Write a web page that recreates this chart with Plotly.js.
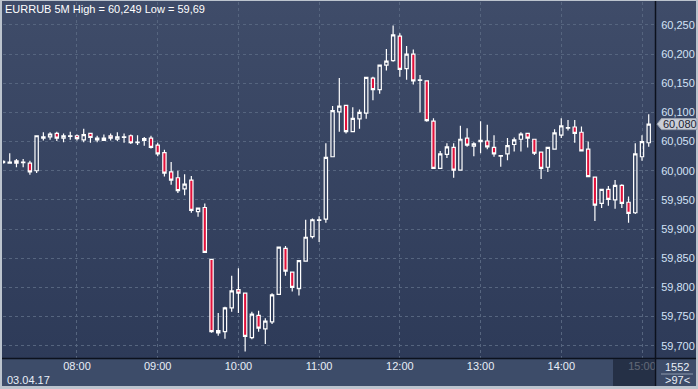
<!DOCTYPE html>
<html><head><meta charset="utf-8">
<script src="https://cdn.plot.ly/plotly-3.0.1.min.js"></script>
<style>
html,body{margin:0;padding:0;background:#c3cad3;overflow:hidden;}
#chart{width:698px;height:389px;background:linear-gradient(to bottom,#3f4c69 0%,#2c3957 100%);
box-shadow: inset 2px 1px 0 0 #bcc4ce, inset -2px -3px 0 0 #bcc4ce;}
</style></head><body><div id="chart"></div>
<script>
const day = '2017-04-03 ';
const times = ['07:05','07:10','07:15','07:20','07:25','07:30','07:35','07:40','07:45','07:50','07:55',
'08:00','08:05','08:10','08:15','08:20','08:25','08:30','08:35','08:40','08:45','08:50','08:55',
'09:00','09:05','09:10','09:15','09:20','09:25','09:30','09:35','09:40','09:45','09:50','09:55',
'10:00','10:05','10:10','10:15','10:20','10:25','10:30','10:35','10:40','10:45','10:50','10:55',
'11:00','11:05','11:10','11:15','11:20','11:25','11:30','11:35','11:40','11:45','11:50','11:55',
'12:00','12:05','12:10','12:15','12:20','12:25','12:30','12:35','12:40','12:45','12:50','12:55',
'13:00','13:05','13:10','13:15','13:20','13:25','13:30','13:35','13:40','13:45','13:50','13:55',
'14:00','14:05','14:10','14:15','14:20','14:25','14:30','14:35','14:40','14:45','14:50','14:55',
'15:00','15:05'];
const openV = [60.014,60.013,60.017,60.014,60.013,60.000,60.056,60.058,60.064,60.056,60.059,
60.060,60.053,60.064,60.056,60.052,60.060,60.054,60.057,60.060,60.048,60.052,60.056,
60.044,60.031,59.998,59.988,59.969,59.984,59.930,59.937,59.848,59.722,59.724,59.765,
59.796,59.790,59.714,59.752,59.729,59.741,59.788,59.867,59.826,59.798,59.845,59.887,
59.915,59.917,60.024,60.101,60.112,60.067,60.089,60.099,60.159,60.139,60.181,60.189,
60.231,60.175,60.200,60.155,60.154,60.085,60.004,60.028,60.040,60.001,60.056,60.042,
60.050,60.051,60.040,60.025,60.029,60.045,60.054,60.064,60.054,60.032,60.006,60.037,
60.061,60.073,60.075,60.066,60.037,59.989,59.944,59.968,59.950,59.975,59.946,59.928,
60.024,60.048];
const highV = [60.018,60.030,60.020,60.020,60.017,60.061,60.066,60.066,60.067,60.064,60.067,
60.062,60.072,60.065,60.060,60.062,60.064,60.066,60.064,60.062,60.061,60.058,60.060,
60.048,60.036,60.015,60.000,59.994,59.991,59.937,59.944,59.848,59.756,59.767,59.820,
59.833,59.790,59.758,59.760,59.747,59.790,59.869,59.871,59.826,59.847,59.916,59.918,
59.922,60.047,60.111,60.159,60.112,60.109,60.105,60.161,60.161,60.182,60.209,60.249,
60.236,60.214,60.208,60.164,60.155,60.090,60.034,60.047,60.047,60.077,60.073,60.049,
60.085,60.079,60.061,60.027,60.056,60.057,60.066,60.064,60.054,60.032,60.040,60.071,
60.090,60.087,60.087,60.076,60.050,59.989,59.969,59.974,59.984,59.977,59.956,60.047,
60.061,60.097];
const lowV = [60.012,60.012,60.006,60.006,59.993,59.996,60.052,60.053,60.051,60.049,60.053,
60.052,60.049,60.048,60.049,60.051,60.052,60.051,60.048,60.046,60.044,60.043,60.038,
60.025,59.990,59.976,59.962,59.958,59.928,59.921,59.859,59.722,59.717,59.712,59.758,
59.756,59.690,59.711,59.724,59.703,59.737,59.788,59.820,59.793,59.786,59.845,59.884,
59.878,59.911,60.024,60.067,60.064,60.067,60.072,60.089,60.121,60.132,60.172,60.187,
60.161,60.156,60.148,60.100,60.084,60.003,60.003,60.022,59.988,60.001,60.041,60.025,
60.030,60.037,60.024,60.007,60.018,60.033,60.033,60.040,60.027,59.986,59.998,60.036,
60.056,60.069,60.048,60.034,59.989,59.914,59.936,59.940,59.935,59.936,59.911,59.926,
60.017,60.041];
const closeV = [60.016,60.015,60.013,60.015,59.998,60.060,60.058,60.063,60.056,60.060,60.060,
60.055,60.062,60.057,60.053,60.056,60.056,60.058,60.058,60.048,60.049,60.055,60.040,
60.029,59.996,59.984,59.966,59.977,59.932,59.936,59.860,59.724,59.726,59.765,59.794,
59.790,59.716,59.754,59.730,59.742,59.787,59.869,59.828,59.800,59.846,59.886,59.916,
59.916,60.023,60.103,60.111,60.067,60.090,60.100,60.160,60.139,60.181,60.188,60.233,
60.174,60.200,60.154,60.156,60.086,60.004,60.029,60.041,60.001,60.054,60.044,60.046,
60.052,60.041,60.029,60.026,60.043,60.053,60.063,60.056,60.030,60.004,60.040,60.065,
60.077,60.074,60.064,60.034,59.990,59.941,59.968,59.951,59.975,59.944,59.927,60.029,
60.050,60.080];
const titleText = 'EURRUB 5M High = 60,249 Low = 59,69';
const dateLabel = '03.04.17';
const countTop = '1552';
const countBottom = '>97<';

const L = 3, R = 43, T = 2, B = 31, W = 698, H = 389;
const PW = W - L - R, PH = H - T - B;
const X = px => (px - L) / PW;
const Y = py => (H - B - py) / PH;
const yMin = 59.6789, yMax = 60.2894;
const unitPx = PH / (yMax - yMin);
const font = 'Liberation Sans, Arial, sans-serif';

const last = closeV[closeV.length - 1];
const hh = 5.5 / unitPx;
const tagPath = `M ${X(657)} ${last} L ${X(661.5)} ${last + hh} L ${X(697)} ${last + hh} L ${X(697)} ${last - hh} L ${X(661.5)} ${last - hh} Z`;

const trace = {
  type: 'candlestick',
  x: times.map(t => day + t),
  open: openV, high: highV, low: lowV, close: closeV,
  increasing: {line: {color: '#ffffff', width: 1.2}, fillcolor: 'rgba(0,0,0,0)'},
  decreasing: {line: {color: '#ffffff', width: 1.2}, fillcolor: '#e2113b'},
  whiskerwidth: 0,
  hoverinfo: 'skip',
  showlegend: false
};

const layout = {
  width: W, height: H,
  margin: {l: L, r: R, t: T, b: B, pad: 0},
  paper_bgcolor: 'rgba(0,0,0,0)',
  plot_bgcolor: 'rgba(0,0,0,0)',
  separators: ', ',
  font: {family: font, size: 11, color: '#e8eef7'},
  xaxis: {
    type: 'date',
    range: [day + '07:05:00', day + '15:09:40'],
    rangeslider: {visible: false},
    dtick: 3600000, tick0: day + '08:00',
    tickformat: '%H:%M',
    showgrid: true, gridcolor: '#56657f', griddash: '3px,3px', gridwidth: 1,
    zeroline: false, showline: false, ticks: '',
    tickfont: {family: font, size: 11, color: '#e8eef7'}
  },
  yaxis: {
    side: 'right',
    range: [yMin, yMax],
    dtick: 0.05, tick0: 59.7,
    tickformat: '.3f',
    showgrid: true, gridcolor: '#56657f', griddash: '3px,3px', gridwidth: 1,
    zeroline: false, showline: false, ticks: 'outside', ticklen: 3, tickcolor: 'rgba(0,0,0,0)',
    tickfont: {family: font, size: 11, color: '#d3e2f6'}
  },
  shapes: [
    {type: 'rect', xref: 'paper', yref: 'paper', x0: X(2), x1: X(696), y0: Y(386), y1: Y(358),
     fillcolor: '#3d4c69', line: {width: 0}, layer: 'below'},
    {type: 'line', xref: 'paper', yref: 'paper', x0: X(2), x1: X(696), y0: Y(358.5), y1: Y(358.5),
     line: {color: '#0c111d', width: 1.5}},
    {type: 'line', xref: 'paper', yref: 'paper', x0: X(655.5), x1: X(655.5), y0: Y(386), y1: Y(1),
     line: {color: '#0c111d', width: 1.5}},
    {type: 'line', xref: 'paper', yref: 'paper', x0: X(661), x1: X(693), y0: Y(374), y1: Y(374),
     line: {color: '#8d99ad', width: 1}},
    {type: 'rect', xref: 'paper', yref: 'paper', x0: X(613), x1: X(655), y0: Y(386), y1: Y(359.3),
     fillcolor: 'rgba(26,33,52,0.66)', line: {width: 0}, layer: 'above'},
    {type: 'path', xref: 'paper', yref: 'y', path: tagPath,
     fillcolor: '#c9ced7', line: {color: '#9aa2b0', width: 1}, layer: 'above'}
  ],
  annotations: [
    {xref: 'paper', yref: 'paper', x: X(3), y: Y(9), xanchor: 'left', yanchor: 'middle',
     text: titleText, showarrow: false, font: {family: font, size: 11, color: '#ffffff'}},
    {xref: 'paper', yref: 'paper', x: X(5), y: Y(380), xanchor: 'left', yanchor: 'middle',
     text: dateLabel, showarrow: false, font: {family: font, size: 11, color: '#e8eef7'}},
    {xref: 'paper', yref: 'paper', x: X(677), y: Y(367), xanchor: 'center', yanchor: 'middle',
     text: countTop, showarrow: false, font: {family: font, size: 11, color: '#e8eef7'}},
    {xref: 'paper', yref: 'paper', x: X(677), y: Y(380), xanchor: 'center', yanchor: 'middle',
     text: countBottom, showarrow: false, font: {family: font, size: 11, color: '#e8eef7'}},
    {xref: 'paper', yref: 'y', x: X(661), y: last, xanchor: 'left', yanchor: 'middle',
     text: last.toFixed(3).replace('.', ','), showarrow: false,
     font: {family: font, size: 11, color: '#1c2333'}}
  ]
};

Plotly.newPlot('chart', [trace], layout, {staticPlot: true, displayModeBar: false});
</script>
</body></html>
